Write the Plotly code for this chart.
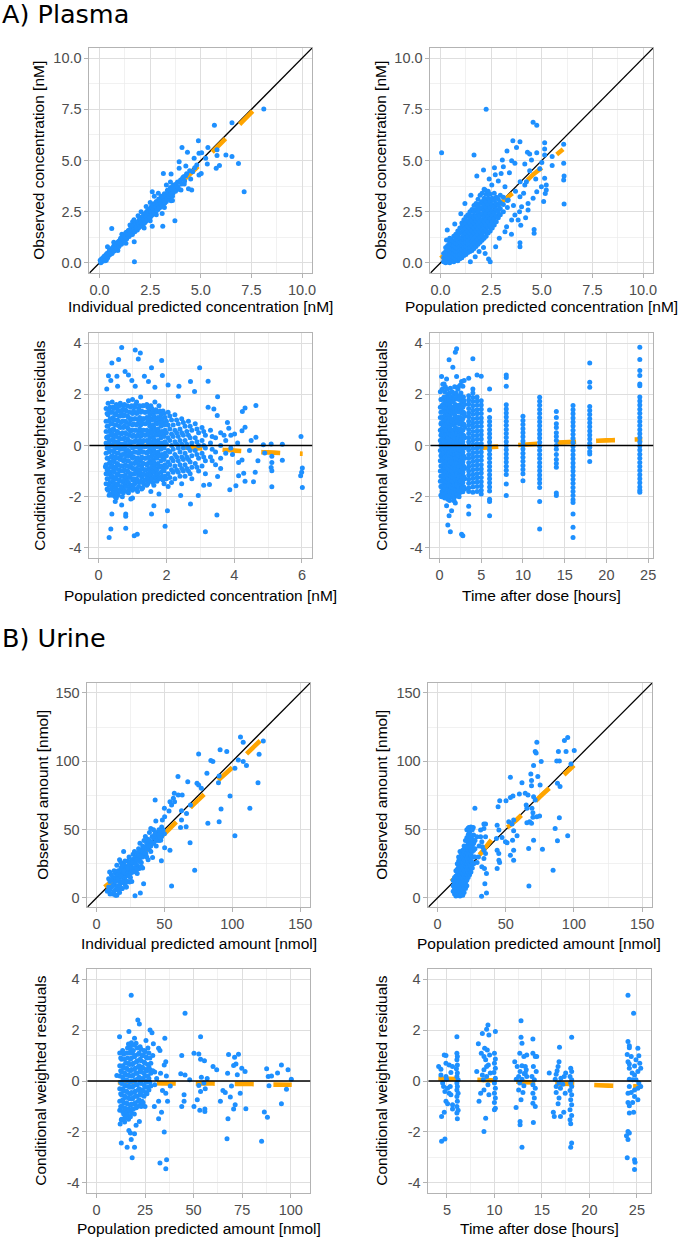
import plotly.graph_objects as go

W, H = 685, 1238
BLUE = "#1E90FF"
ORANGE = "#FFA500"
TICK_FONT = dict(family="Liberation Sans, Arial, sans-serif", size=14.5, color="#4D4D4D")
TITLE_FONT = dict(family="Liberation Sans, Arial, sans-serif", size=15.5, color="#000000")

# ---------------- A) Plasma ----------------
# Panel A1: individual predicted vs observed concentration (nM)
a1_points = [
    (8.11,7.52),(5.67,6.72),(6.54,6.85),(4.88,5.97),(5.35,5.64),(4.07,5.63),(4.34,5.40),(4.91,5.35),
    (5.04,5.38),(5.80,5.53),(5.80,5.25),(6.24,5.27),(6.54,5.19),(5.24,5.11),(5.32,4.83),(5.92,4.75),
    (5.76,4.62),(6.86,4.85),(7.14,3.47),(3.93,4.94),(4.26,4.73),(4.67,5.11),(4.80,4.78),(3.15,4.37),
    (3.53,4.34),(3.93,4.62),(4.91,4.29),(5.02,4.37),(4.50,4.09),(4.18,3.85),(4.39,3.62),(4.02,3.56),
    (4.55,3.56),(3.61,3.43),(3.53,3.03),(3.09,2.41),(3.72,2.06),(3.12,1.79),(2.60,1.79),(1.71,1.03),
    (1.72,0.05),(0.60,1.68),(0.39,0.78),(2.60,3.47),(1.63,2.01),(2.10,2.22),
    (0.03,0.12),(0.08,0.05),(0.12,0.2),(0.15,0.1),(0.2,0.28),(0.22,0.15),(0.28,0.22),(0.3,0.38),
    (0.33,0.12),(0.38,0.3),(0.42,0.48),(0.45,0.35),(0.5,0.55),(0.52,0.4),(0.57,0.5),(0.6,0.7),
    (0.63,0.55),(0.68,0.62),(0.7,0.82),(0.74,0.7),(0.78,0.85),(0.8,0.72),(0.85,0.95),(0.88,0.8),
    (0.92,0.88),(0.95,1.05),(0.98,0.9),(1.02,1.12),(1.05,0.98),(1.1,1.05),(1.12,1.25),(1.16,1.1),
    (1.2,1.2),(1.24,1.38),(1.28,1.2),(1.32,1.3),(1.36,1.5),(1.4,1.35),(1.45,1.45),(1.48,1.62),
    (1.52,1.5),(1.56,1.4),(1.6,1.72),(1.64,1.6),(1.68,1.5),(1.72,1.85),(1.76,1.7),(1.8,1.6),
    (1.84,1.95),(1.88,1.82),(1.92,1.7),(1.96,2.1),(2.0,1.95),(2.04,1.82),(2.08,2.22),(2.12,2.05),
    (2.16,1.9),(2.2,2.35),(2.24,2.18),(2.28,2.02),(2.32,2.5),(2.36,2.3),(2.4,2.12),(2.44,2.62),
    (2.48,2.42),(2.52,2.25),(2.56,2.75),(2.6,2.55),(2.64,2.38),(2.68,2.88),(2.72,2.68),(2.76,2.5),
    (2.8,3.0),(2.84,2.8),(2.88,2.6),(2.92,3.12),(2.96,2.92),(3.0,2.72),(3.05,3.25),(3.1,3.05),
    (3.15,2.85),(3.2,3.38),(3.25,3.18),(3.3,3.0),(3.35,3.55),(3.4,3.32),(3.45,3.12),(3.5,3.68),
    (3.55,3.45),(3.6,3.25),(3.65,3.8),(3.7,3.6),(3.8,3.75),(3.85,3.95),(3.9,3.6),(4.0,4.05),
    (4.05,3.85),(4.15,4.2),(4.2,4.0),(4.3,4.35),(4.45,4.5),(4.6,4.45),(4.7,4.65),(2.3,2.75),
    (2.5,2.95),(1.9,2.3),(1.5,1.85),(2.7,3.25),(2.9,3.4),(1.1,1.4),(0.7,1.0),(2.2,1.7),(2.5,2.05),
    (2.8,2.35),(3.2,2.7),(3.6,3.05),(1.3,0.95),(0.9,0.6),(3.3,3.8),(3.5,3.95),(2.05,2.5),(1.7,2.1),
    (0.06,0.0),(0.1,0.18),(0.14,0.08),(0.18,0.22),(0.24,0.32),(0.27,0.1),(0.32,0.28),(0.36,0.45),
    (0.4,0.25),(0.44,0.42),(0.48,0.6),(0.54,0.48),(0.58,0.65),(0.62,0.45),(0.66,0.75),(0.72,0.58),
    (0.76,0.78),(0.82,0.9),(0.86,0.7),(0.9,1.0),(0.96,0.8),(1.0,0.95),(1.04,1.2),(1.08,0.9),
    (1.14,1.15),(1.18,1.32),(1.22,1.05),(1.26,1.28),(1.3,1.48),(1.34,1.18),(1.38,1.4),(1.42,1.58),
    (1.46,1.28),(1.5,1.42),(1.54,1.65),(1.58,1.55),(1.62,1.38),(1.66,1.78),(1.7,1.62),(1.74,1.52),
    (1.78,1.9),(1.82,1.75),(1.86,1.6),(1.9,2.0),(1.94,1.88),(1.98,1.75),(2.02,2.12),(2.06,1.98),
    (2.1,1.85),(2.14,2.28),(2.18,2.12),(2.22,1.95),(2.26,2.42),(2.3,2.25),(2.34,2.1),(2.38,2.55),
    (2.42,2.38),(2.46,2.2),(2.5,2.6),(2.54,2.5),(2.58,2.32),(2.62,2.7),(2.66,2.62),(2.7,2.45),
    (2.74,2.85),(2.78,2.72),(2.82,2.55),(2.86,2.95),(2.9,2.82),(2.94,2.68),(2.98,3.05),(3.02,2.9),
    (3.08,2.8),(3.12,3.18),(3.18,3.02),(3.22,2.92),(3.28,3.3),(3.32,3.12),(3.38,3.45),(3.42,3.25),
    (3.48,3.55),(3.52,3.35),(3.58,3.6),(3.62,3.4),(3.68,3.7),(3.75,3.5),(3.78,3.85),(3.88,3.7),
    (3.95,3.95),(4.1,4.15),(4.25,4.25),
]
a1_loess_x = [0.05, 1.0, 2.0, 3.0, 4.0, 5.0, 6.0, 7.0, 7.8]
a1_loess_y = [0.08, 1.0, 1.98, 2.95, 3.9, 4.85, 5.85, 6.85, 7.65]

# Panel A2: population predicted vs observed concentration (nM)
a2_points = [
    (0.05,5.38),(2.25,7.5),(4.57,6.87),(4.75,6.72),(3.57,5.97),(3.92,5.92),(3.75,5.64),(1.65,5.27),
    (3.28,5.46),(4.29,5.40),(4.40,5.32),(4.75,5.38),(5.14,5.87),(5.14,5.56),(5.14,5.27),(5.51,5.19),
    (6.08,5.79),(6.08,4.86),(6.10,4.24),(6.08,4.05),(6.10,2.87),(5.51,4.75),(5.14,4.13),(5.22,3.80),
    (5.22,3.56),(5.17,3.39),(5.09,2.99),(4.75,3.47),(4.98,3.72),(4.49,5.02),(4.16,4.83),(3.67,4.86),
    (3.51,4.99),(3.05,5.02),(2.66,4.65),(2.99,4.37),(2.12,4.53),(1.79,4.24),(3.93,3.96),(4.24,3.96),
    (4.16,3.80),(4.32,2.90),(3.92,3.23),(4.32,2.58),(4.57,3.15),(4.0,2.74),(3.67,2.33),(3.83,2.09),
    (3.51,2.09),(3.26,1.76),(3.18,1.52),(3.96,1.84),(4.62,1.63),(4.62,1.44),(3.92,0.98),(3.92,0.78),
    (2.72,0.78),(2.12,0.75),(1.71,0.29),(2.37,0.18),(2.45,0.05),(1.47,0.05),(0.33,1.60),(0.29,1.11),
    (2.85,4.0),(3.18,3.72),(2.53,3.80),(2.20,3.56),(3.34,3.07),(2.9,1.2),(3.5,1.4),(3.7,3.5),
    (4.1,3.4),(4.4,4.5),(4.7,4.1),(4.9,4.6),(5.0,4.9),(3.4,4.4),(3.1,4.7),(1.2,2.9),(1.5,3.3),
    (1.0,2.4),(0.7,1.9),(2.7,4.3),(2.4,4.1),(3.6,2.8),(3.9,2.5),(4.2,2.2),(2.2,0.45),(1.9,0.55),
]
a2_columns = [
    (0.15,[0.05,0.25,0.45]),
    (0.25,[0.0,0.15,0.35,0.55,0.75]),
    (0.35,[0.05,0.25,0.45,0.65,0.85]),
    (0.45,[0.0,0.2,0.4,0.6,0.8,1.0,1.2]),
    (0.55,[0.1,0.3,0.5,0.7,0.9,1.1]),
    (0.65,[0.05,0.25,0.45,0.65,0.85,1.05,1.3]),
    (0.75,[0.15,0.35,0.55,0.75,0.95,1.15,1.4]),
    (0.85,[0.1,0.3,0.5,0.7,0.9,1.1,1.3,1.55]),
    (0.95,[0.2,0.4,0.6,0.8,1.0,1.2,1.45,1.7]),
    (1.05,[0.25,0.45,0.65,0.85,1.05,1.25,1.5,1.75,1.95]),
    (1.15,[0.35,0.55,0.75,0.95,1.15,1.35,1.6,1.85,2.1]),
    (1.25,[0.4,0.6,0.8,1.0,1.2,1.45,1.7,1.95,2.25]),
    (1.35,[0.5,0.7,0.9,1.1,1.3,1.55,1.8,2.05,2.35]),
    (1.45,[0.55,0.75,0.95,1.2,1.45,1.7,1.95,2.2,2.5]),
    (1.55,[0.6,0.85,1.05,1.3,1.55,1.8,2.05,2.3,2.6]),
    (1.65,[0.7,0.95,1.2,1.45,1.7,1.95,2.2,2.5,2.8]),
    (1.75,[0.8,1.05,1.3,1.55,1.8,2.05,2.3,2.6,2.9]),
    (1.85,[0.9,1.15,1.4,1.65,1.9,2.15,2.45,2.75,3.1]),
    (1.95,[1.0,1.25,1.5,1.75,2.0,2.3,2.6,2.9,3.3]),
    (2.05,[1.1,1.35,1.6,1.85,2.1,2.4,2.7,3.0,3.4]),
    (2.15,[1.2,1.5,1.75,2.0,2.25,2.55,2.85,3.15,3.6]),
    (2.25,[1.3,1.6,1.85,2.1,2.4,2.7,3.0,3.35]),
    (2.35,[1.45,1.75,2.0,2.25,2.55,2.85,3.15,3.5]),
    (2.45,[1.55,1.85,2.15,2.4,2.7,3.0,3.35]),
    (2.55,[1.7,2.0,2.3,2.55,2.85,3.15]),
    (2.65,[1.85,2.15,2.45,2.75,3.05,3.4]),
    (2.75,[2.0,2.3,2.6,2.9,3.2]),
    (2.85,[2.2,2.5,2.8,3.1]),
    (2.95,[2.35,2.65,2.95,3.3]),
    (3.10,[2.5,2.85,3.2]),
    (3.30,[2.7,3.05]),
]
a2_loess_x = [0.0, 1.0, 2.0, 3.0, 4.0, 4.5, 5.0, 5.5, 6.05]
a2_loess_y = [0.22, 1.0, 1.95, 2.95, 3.75, 4.25, 4.65, 5.1, 5.55]

# Panel A3: population predicted concentration vs CWRES
a3_outliers = [
    (0.68,3.83),(1.08,3.74),(1.23,3.62),(1.17,3.38),(0.39,3.23),(0.59,3.36),(1.86,3.32),(1.56,3.04),
    (2.98,3.04),(3.23,2.51),(2.71,2.50),(2.83,2.11),(1.88,2.74),(2.05,2.37),(2.37,2.32),(2.35,1.93),
    (3.51,1.91),(3.23,1.50),(3.40,1.43),(3.50,1.17),(4.32,1.47),(4.24,1.33),(4.64,1.56),(3.84,0.67),
    (4.32,0.71),(4.23,0.58),(4.01,0.45),(4.64,0.32),(5.97,0.35),(5.09,0.06),(5.42,0.05),(4.86,0.03),
    (4.90,-0.29),(5.11,-0.42),(5.42,-0.58),(5.11,-0.66),(5.09,-0.86),(5.11,-0.99),(4.23,-0.57),
    (4.28,-1.09),(4.13,-0.66),(4.13,-1.18),(4.62,-1.05),(4.57,-1.42),(4.32,-1.40),(4.05,-1.57),
    (3.87,-1.73),(5.11,-1.61),(6.01,-0.88),(5.99,-1.05),(5.96,-1.18),(6.01,-1.64),(3.51,-1.21),
    (3.10,-1.55),(3.27,-1.53),(3.49,-2.72),(3.15,-3.37),(2.94,-1.96),(2.71,-2.29),(2.42,-1.96),
    (2.03,-2.55),(1.96,-3.16),(1.63,-2.36),(1.56,-2.68),(1.05,-3.53),(1.14,-3.47),(0.31,-3.60),
    (0.36,-3.27),(0.39,-2.68),(0.80,-2.68),(0.80,-2.77),(0.80,-3.24),(0.68,-2.33),(0.95,-2.09),
    (0.49,-2.19),(0.20,-0.83),(0.24,0.32),(0.29,2.73),(0.36,2.54),(0.54,2.71),(0.56,2.32),(0.78,2.89),
    (0.88,2.76),(0.98,2.54),(1.35,2.71),(1.66,2.28),(1.47,2.50),(1.08,2.32),(0.24,2.21),(3.8,0.9),
    (3.6,-0.9),(3.7,0.4),(4.45,-0.2),(4.7,-0.6),(3.95,-0.35),(4.5,0.2),(4.1,0.1),
]
a3_columns = [
    (0.22,[1.45,0.95,0.55,0.1,-0.3,-0.75,-1.1,-1.5]),
    (0.25,[1.25,0.75,0.3,-0.1,-0.5,-0.95,-1.3,-1.7]),
    (0.28,[1.65,1.2,0.75,0.35,-0.05,-0.5,-0.9,-1.3,-1.75]),
    (0.31,[1.4,0.95,0.55,0.15,-0.25,-0.7,-1.1,-1.55,-1.95]),
    (0.34,[1.5,1.05,0.6,0.2,-0.2,-0.65,-1.05,-1.45,-1.9]),
    (0.37,[1.3,0.85,0.4,0.0,-0.45,-0.85,-1.25,-1.7]),
    (0.40,[1.7,1.3,0.85,0.45,0.0,-0.4,-0.8,-1.2,-1.6,-1.95]),
    (0.43,[1.5,1.1,0.65,0.25,-0.2,-0.6,-1.0,-1.4,-1.8]),
    (0.46,[1.45,1.0,0.6,0.15,-0.25,-0.65,-1.05,-1.5,-1.85]),
    (0.49,[1.25,0.8,0.4,-0.05,-0.45,-0.85,-1.25,-1.65,-2.0]),
    (0.52,[1.6,1.2,0.8,0.35,-0.1,-0.5,-0.9,-1.3,-1.7,-2.05]),
    (0.55,[1.45,1.0,0.55,0.15,-0.3,-0.7,-1.1,-1.5,-1.85]),
    (0.58,[1.35,0.95,0.5,0.1,-0.3,-0.75,-1.15,-1.55,-1.95]),
    (0.61,[1.55,1.15,0.75,0.3,-0.1,-0.5,-0.95,-1.35,-1.75]),
    (0.64,[1.65,1.15,0.7,0.25,-0.15,-0.55,-1.0,-1.4,-1.8]),
    (0.67,[1.3,0.9,0.45,0.05,-0.4,-0.8,-1.2,-1.6]),
    (0.70,[1.4,0.95,0.5,0.05,-0.35,-0.8,-1.2,-1.65,-2.0]),
    (0.73,[1.55,1.15,0.7,0.25,-0.15,-0.6,-1.0,-1.45,-1.85]),
    (0.76,[1.6,1.2,0.75,0.3,-0.1,-0.55,-0.95,-1.35,-1.75]),
    (0.79,[1.4,0.95,0.5,0.1,-0.3,-0.75,-1.15,-1.55]),
    (0.82,[1.35,0.9,0.45,0.0,-0.4,-0.8,-1.25,-1.6]),
    (0.85,[1.55,1.15,0.7,0.25,-0.2,-0.6,-1.0,-1.4,-1.8]),
    (0.88,[1.75,1.1,0.65,0.2,-0.2,-0.6,-1.05,-1.45,-1.85]),
    (0.91,[1.3,0.85,0.4,0.0,-0.4,-0.85,-1.25,-1.7]),
    (0.94,[1.5,1.0,0.55,0.1,-0.3,-0.75,-1.15,-1.55]),
    (0.97,[1.55,1.05,0.6,0.15,-0.3,-0.7,-1.1,-1.55]),
    (1.00,[1.8,1.25,0.8,0.35,-0.1,-0.5,-0.9,-1.35,-1.75,-2.05]),
    (1.03,[1.35,0.85,0.4,-0.05,-0.45,-0.9,-1.3,-1.65]),
    (1.06,[1.5,1.05,0.6,0.15,-0.25,-0.7,-1.1,-1.5]),
    (1.09,[1.6,1.05,0.6,0.2,-0.25,-0.65,-1.05,-1.45]),
    (1.12,[1.7,1.25,0.8,0.35,-0.05,-0.5,-0.9,-1.3,-1.7]),
    (1.15,[1.3,0.85,0.4,-0.05,-0.5,-0.95,-1.4,-1.8]),
    (1.18,[1.45,1.0,0.55,0.1,-0.3,-0.75,-1.15,-1.6]),
    (1.21,[1.55,1.1,0.65,0.2,-0.2,-0.6,-1.05,-1.45]),
    (1.24,[1.9,1.3,0.8,0.35,-0.1,-0.55,-0.95,-1.4]),
    (1.27,[1.35,0.9,0.45,0.0,-0.45,-0.85,-1.25,-1.7]),
    (1.30,[1.55,1.05,0.6,0.15,-0.25,-0.7,-1.15,-1.65]),
    (1.33,[1.55,1.05,0.6,0.2,-0.25,-0.7,-1.1,-1.5]),
    (1.36,[1.3,0.85,0.4,-0.05,-0.5,-0.95,-1.35]),
    (1.39,[1.3,0.85,0.4,-0.05,-0.5,-0.95,-1.35]),
    (1.42,[1.6,1.1,0.6,0.2,-0.3,-0.75,-1.2,-1.55]),
    (1.45,[1.5,1.0,0.55,0.15,-0.25,-0.7,-1.1,-1.5]),
    (1.48,[1.35,0.9,0.45,0.0,-0.45,-0.9,-1.3]),
    (1.51,[1.2,0.75,0.3,-0.15,-0.6,-1.0,-1.4]),
    (1.54,[1.55,1.05,0.6,0.15,-0.25,-0.7,-1.15,-1.8]),
    (1.57,[1.45,1.0,0.5,0.05,-0.4,-0.85,-1.3]),
    (1.60,[1.3,0.8,0.35,-0.1,-0.55,-1.0,-1.45]),
    (1.63,[1.15,0.7,0.25,-0.2,-0.65,-1.05,-1.55]),
    (1.66,[1.7,1.05,0.6,0.15,-0.3,-0.75,-1.2]),
    (1.69,[1.4,0.9,0.45,0.0,-0.45,-0.9,-1.3]),
    (1.72,[1.3,0.85,0.4,-0.05,-0.5,-0.95,-1.4]),
    (1.75,[1.1,0.65,0.2,-0.25,-0.7,-1.1]),
    (1.78,[1.55,1.0,0.55,0.1,-0.35,-0.8,-1.25,-1.9]),
    (1.81,[1.35,0.9,0.45,0.0,-0.4,-0.85,-1.3]),
    (1.84,[1.2,0.75,0.3,-0.15,-0.6,-1.05]),
    (1.87,[1.05,0.55,0.1,-0.35,-0.8,-1.2]),
    (1.90,[1.35,0.9,0.45,0.0,-0.45,-0.9,-1.35]),
    (1.93,[1.25,0.8,0.35,-0.1,-0.55,-1.0,-1.5]),
    (1.96,[1.1,0.6,0.15,-0.3,-0.75,-1.2]),
    (2.00,[0.95,0.5,0.05,-0.4,-0.85,-1.3]),
    (2.05,[1.3,0.8,0.3,-0.2,-0.65,-1.1,-1.6]),
    (2.10,[1.15,0.65,0.2,-0.25,-0.75,-1.25]),
    (2.15,[1.0,0.45,0.0,-0.5,-0.95,-1.45]),
    (2.20,[0.8,0.35,-0.15,-0.6,-1.05]),
    (2.25,[1.2,0.6,0.15,-0.35,-0.8,-1.3]),
    (2.30,[1.0,0.5,0.05,-0.45,-0.95]),
    (2.35,[0.85,0.35,-0.1,-0.6,-1.05]),
    (2.40,[0.65,0.2,-0.25,-0.75,-1.2]),
    (2.45,[1.05,0.5,0.05,-0.45,-0.9,-1.5]),
    (2.50,[0.9,0.4,-0.1,-0.55,-1.0]),
    (2.55,[0.75,0.2,-0.3,-0.75,-1.2]),
    (2.60,[0.55,0.05,-0.45,-0.9]),
    (2.65,[0.95,0.4,-0.1,-0.55,-1.0]),
    (2.70,[0.75,0.3,-0.2,-0.65,-1.1]),
    (2.75,[0.6,0.1,-0.4,-0.85,-1.3]),
    (2.85,[0.85,0.3,-0.2,-0.7]),
    (2.90,[0.65,0.15,-0.35,-0.85]),
    (2.95,[0.5,0.0,-0.5,-1.0]),
    (3.05,[0.7,0.2,-0.3,-0.8]),
    (3.10,[0.55,0.0,-0.45]),
    (3.15,[0.4,-0.1,-0.6,-1.1]),
    (3.30,[0.6,0.1,-0.45]),
    (3.35,[0.35,-0.15,-0.6]),
    (3.45,[0.3,-0.25,-0.75]),
    (3.60,[0.5,0.0,-0.5]),
    (3.75,[0.2,-0.3]),
    (3.90,[0.4,-0.1]),
]
a3_loess_x = [0.2, 1.0, 2.0, 2.8, 3.5, 4.0, 4.5, 5.0, 5.5, 6.02]
a3_loess_y = [0.0, 0.0, -0.05, -0.1, -0.15, -0.2, -0.24, -0.27, -0.3, -0.32]

# Panel A4: time after dose vs CWRES
a4_columns = [
    (0.10,[2.1,1.5,1.1,0.6,0.2,-0.2,-0.6,-1.0,-1.4]),
    (0.17,[1.8,1.3,0.85,0.4,0.0,-0.4,-0.8,-1.2,-1.6,-1.95]),
    (0.25,[2.7,1.8,1.3,0.9,0.45,0.05,-0.35,-0.8,-1.2,-1.6,-2.0]),
    (0.32,[2.2,1.55,1.1,0.65,0.25,-0.15,-0.55,-1.0,-1.4,-1.8]),
    (0.40,[2.4,1.6,1.1,0.7,0.25,-0.15,-0.55,-0.95,-1.35,-1.75]),
    (0.47,[1.85,1.35,0.9,0.45,0.05,-0.35,-0.75,-1.15,-1.55,-2.0]),
    (0.55,[2.41,1.9,1.4,0.95,0.5,0.1,-0.3,-0.7,-1.1,-1.5,-1.9]),
    (0.62,[2.1,1.6,1.15,0.7,0.3,-0.1,-0.5,-0.9,-1.3,-1.7,-2.05]),
    (0.70,[2.3,1.7,1.2,0.8,0.35,-0.05,-0.45,-0.85,-1.25,-1.65,-2.0]),
    (0.77,[1.9,1.45,1.0,0.55,0.15,-0.25,-0.65,-1.05,-1.45,-1.9]),
    (0.85,[2.6,1.5,1.05,0.6,0.2,-0.2,-0.6,-1.0,-1.4,-1.85,-2.36]),
    (0.92,[2.2,1.75,1.3,0.85,0.4,0.0,-0.4,-0.8,-1.2,-1.6,-2.0]),
    (1.00,[2.0,1.6,1.2,0.75,0.3,-0.1,-0.5,-0.9,-1.3,-1.7,-2.1,-3.11]),
    (1.07,[1.85,1.4,0.95,0.5,0.1,-0.3,-0.7,-1.1,-1.5,-1.9]),
    (1.15,[3.35,1.8,1.35,0.9,0.45,0.05,-0.35,-0.75,-1.15,-1.55,-1.95,-2.75]),
    (1.22,[2.05,1.6,1.15,0.7,0.25,-0.15,-0.55,-0.95,-1.35,-1.75,-2.15]),
    (1.30,[2.24,1.5,1.05,0.6,0.15,-0.25,-0.65,-1.05,-1.45,-1.85,-3.37]),
    (1.37,[1.75,1.3,0.85,0.4,0.0,-0.4,-0.8,-1.2,-1.6,-2.0]),
    (1.45,[1.9,1.4,0.95,0.5,0.1,-0.3,-0.7,-1.1,-1.5,-1.9,-2.55]),
    (1.52,[2.1,1.5,1.05,0.6,0.2,-0.2,-0.6,-1.0,-1.4,-1.8]),
    (1.60,[3.06,1.7,1.25,0.8,0.35,-0.05,-0.45,-0.85,-1.25,-1.65,-2.0]),
    (1.67,[1.85,1.35,0.9,0.45,0.05,-0.35,-0.75,-1.15,-1.55,-1.95]),
    (1.75,[2.0,1.45,1.0,0.55,0.15,-0.25,-0.65,-1.05,-1.45,-1.85,-2.16]),
    (1.82,[2.3,1.8,1.3,0.85,0.45,0.05,-0.35,-0.75,-1.15,-1.55,-2.0]),
    (1.90,[3.65,1.6,1.15,0.7,0.3,-0.1,-0.5,-0.9,-1.3,-1.7,-2.25]),
    (1.97,[2.05,1.55,1.1,0.65,0.25,-0.15,-0.55,-0.95,-1.35,-1.75]),
    (2.05,[3.78,2.7,1.85,1.35,0.9,0.45,0.05,-0.35,-0.75,-1.15,-1.55,-1.95]),
    (2.12,[1.95,1.4,0.95,0.5,0.1,-0.3,-0.7,-1.1,-1.5,-1.9]),
    (2.20,[2.2,1.55,1.1,0.65,0.25,-0.15,-0.55,-0.95,-1.35,-1.75]),
    (2.27,[2.3,1.55,1.1,0.65,0.25,-0.15,-0.55,-0.95,-1.35,-1.75]),
    (2.35,[1.8,1.3,0.85,0.4,0.0,-0.4,-0.8,-1.2,-1.6,-2.0]),
    (2.42,[1.95,1.45,1.0,0.55,0.15,-0.25,-0.65,-1.05,-1.45,-1.85]),
    (2.50,[2.37,1.6,1.1,0.65,0.2,-0.2,-0.6,-1.0,-1.4,-1.8]),
    (2.57,[2.05,1.5,1.05,0.6,0.2,-0.2,-0.6,-1.0,-1.4]),
    (2.65,[2.5,1.85,1.35,0.9,0.45,0.05,-0.35,-0.75,-1.15,-1.55,-3.47]),
    (2.72,[1.7,1.25,0.8,0.35,-0.05,-0.45,-0.85,-1.25,-1.65]),
    (2.80,[2.32,1.5,1.05,0.6,0.15,-0.25,-0.65,-1.05,-1.45,-1.81,-3.53]),
    (2.87,[1.9,1.3,0.85,0.4,0.0,-0.4,-0.8,-1.2,-1.6]),
    (2.95,[2.54,1.75,1.25,0.8,0.35,-0.05,-0.45,-0.85,-1.25,-1.65]),
    (3.02,[1.6,1.15,0.7,0.3,-0.1,-0.5,-0.9,-1.3,-1.7]),
    (3.50,[2.63,1.95,1.78,1.62,1.45,1.28,1.12,0.95,0.8,0.63,0.47,0.3,0.14,-0.02,-0.18,-0.35,-0.5,
           -0.67,-0.83,-1.0,-1.15,-1.32,-1.48,-1.65,-1.8,-2.38,-2.68]),
    (4.00,[3.39,2.21,2.05,1.88,1.72,1.55,1.38,1.22,1.05,0.88,0.72,0.55,0.38,0.22,0.05,-0.12,-0.28,
           -0.45,-0.62,-0.78,-0.95,-1.12,-1.28,-1.45,-1.62,-1.83]),
    (4.50,[2.76,1.9,1.74,1.57,1.4,1.24,1.07,0.9,0.74,0.57,0.4,0.24,0.07,-0.1,-0.26,-0.43,-0.6,
           -0.76,-0.93,-1.1,-1.26,-1.43,-1.6,-1.8]),
    (5.00,[2.71,1.75,1.58,1.42,1.25,1.08,0.92,0.75,0.58,0.42,0.25,0.08,-0.08,-0.25,-0.42,-0.58,
           -0.75,-0.92,-1.08,-1.25,-1.42,-1.58,-1.75,-1.9]),
    (6.00,[2.21,1.39,1.1,0.94,0.78,0.62,0.46,0.3,0.14,-0.02,-0.18,-0.34,-0.5,-0.66,-0.82,-0.98,
           -1.14,-1.3,-1.46,-1.62,-1.78,-2.1,-2.19,-2.75]),
    (8.00,[2.76,2.66,2.32,1.59,1.43,1.27,1.11,0.95,0.79,0.63,0.47,0.31,0.15,-0.01,-0.17,-0.33,
           -0.49,-0.65,-0.81,-0.97,-1.13,-1.51,-1.96]),
    (10.0,[1.14,0.98,0.82,0.66,0.5,0.34,0.18,0.02,-0.14,-0.3,-0.46,-0.62,-0.78,-0.94,-1.1,-1.38]),
    (12.0,[1.89,1.73,1.57,1.41,1.25,1.09,0.93,0.77,0.61,0.45,0.29,0.13,-0.03,-0.19,-0.35,-0.51,
           -0.67,-0.83,-0.99,-1.15,-1.31,-1.47,-1.64,-2.19,-3.27]),
    (14.0,[1.33,1.1,0.85,0.7,0.5,0.35,0.2,0.0,-0.15,-0.35,-0.55,-0.7,-0.85,-1.86,-1.96]),
    (16.0,[1.56,1.4,1.24,1.08,0.92,0.76,0.6,0.44,0.28,0.12,-0.04,-0.2,-0.36,-0.52,-0.68,-0.84,
           -1.0,-1.16,-1.32,-1.48,-1.64,-1.8,-1.96,-2.12,-2.23,-2.68,-3.2,-3.6]),
    (18.0,[3.23,2.47,2.28,1.53,1.37,1.21,1.05,0.89,0.73,0.57,0.41,0.25,0.09,-0.07,-0.23,-0.33,-0.63]),
    (24.0,[3.84,3.36,2.93,2.74,2.41,2.34,1.9,1.74,1.58,1.42,1.26,1.1,0.94,0.78,0.62,0.46,0.3,0.14,
           -0.02,-0.18,-0.34,-0.5,-0.66,-0.82,-0.98,-1.14,-1.3,-1.46,-1.62,-1.75,-1.83]),
]
a4_loess_x = [0.1, 2.0, 4.0, 6.0, 8.0, 10.0, 12.0, 14.0, 16.0, 18.0, 20.0, 22.0, 24.3]
a4_loess_y = [-0.05, -0.08, -0.1, -0.07, -0.02, 0.03, 0.07, 0.11, 0.14, 0.17, 0.2, 0.22, 0.24]

# ---------------- B) Urine ----------------
# Panel B1: individual predicted vs observed amount (nmol)
b1_points = [
    (106,117.7),(108,114),(122.8,114.8),(91,108.4),(95.9,107.2),(75.2,105.4),(119.7,105.2),
    (84.2,100.6),(85.7,99.8),(104.4,101),(108,99.8),(110.4,96.9),(101.9,94.9),(90.3,89.3),
    (89.8,84.4),(118.9,84.4),(81.3,91.3),(60,88.8),(67.2,85.1),(74,83.9),(75.2,82.7),(77.2,80.3),
    (98.3,74.6),(91.7,65.1),(112.9,65.6),(82,54.6),(90.3,55.8),(101.9,45.5),(72.3,20.3),(55.3,8.8),
    (28.4,1.7),(32.3,3.7),(34.7,10.5),(21.8,8.1),(24.3,11.7),(18.7,6.9),(68.9,40.4),(66,52.1),
    (61.9,51.6),(62.6,57),(62.6,63.9),(60.2,75.4),(56.6,72.9),(57.3,76.6),(57.5,70.5),(63.1,75.4),
    (69.2,68),(66.3,61.9),(54.1,70.5),(55.3,68),(53.4,63.6),(50,65.6),(50.2,59.5),(48.5,57),
    (43.2,71.7),(43.7,56.3),(40,50.9),(47.3,42.3),(47.8,27.2),(50.2,36.7),(54.1,35),(36.4,32.1),
    (41.3,29.6),(38.8,35.5),(41.3,40.6),(31.6,21.5),(32.3,32.5),(9.7,19.1),
    (8,5),(10,12),(11,8),(12,3),(12,15),(13,10),(14,6),(14,18),(15,13),(15,2),(16,9),(16,20),
    (17,15),(17,4),(18,11),(18,22),(19,17),(19,7),(20,14),(20,25),(21,19),(21,10),(22,23),(22,16),
    (23,27),(23,12),(24,20),(24,30),(25,24),(25,15),(26,28),(26,19),(27,32),(27,22),(28,26),(28,34),
    (29,30),(29,20),(30,33),(30,24),(31,36),(31,28),(32,31),(32,40),(33,35),(33,26),(34,38),(34,30),
    (35,42),(35,33),(36,37),(36,45),(37,40),(37,30),(38,43),(39,38),(39,48),(40,41),(40,34),(41,45),
    (42,40),(42,50),(43,44),(44,48),(44,38),(45,46),(46,50),(46,42),(47,48),(48,45),(48,52),(49,50),
    (50,47),(15,16),(18,19),(21,22),(24,25),(27,28),(13,14),(16,17),(19,20),(22,21),(25,26),(28,29),
    (20,18),(23,22),(26,25),(29,28),(17,12),(10,6),(9,14),(11,17),(13,20),(15,24),(17,28),(20,34),
    (14,2),(22,8),(26,12),(30,18),(34,22),(38,28),(18,26),
    (9,8),(10,3),(11,13),(12,9),(13,5),(14,12),(15,8),(16,14),(17,9),(18,16),(19,12),(20,20),
    (21,15),(22,12),(23,18),(24,23),(25,18),(26,22),(27,26),(28,22),(29,25),(30,28),(31,31),(32,27),
    (33,30),(34,34),(35,37),(36,33),(37,36),(38,38),(39,42),(40,38),(41,40),(42,44),(43,47),(44,42),
    (45,44),(46,46),(47,44),(48,49),(16,6),(19,24),(21,27),(24,16),(27,19),(30,21),(33,23),
]
b1_loess_x = [6, 20, 35, 50, 60, 70, 80, 90, 100, 110, 122.5]
b1_loess_y = [8, 19.5, 33.5, 47, 57, 67, 76.5, 86.5, 95.5, 105, 117]

# Panel B2: population predicted vs observed amount (nmol)
b2_outliers = [
    (95.4,117.4),(93,115.2),(72.8,114),(71.6,107.2),(72.3,106),(88.6,107.2),(94.2,107.2),
    (100.2,107.9),(76,99.8),(87.4,100.3),(89.3,100.3),(70.4,96.9),(97.8,98.1),(68.4,90.8),
    (73.5,88.8),(53.4,88.3),(61.9,84.4),(68.9,85.9),(68.9,82.2),(75.2,82.7),(89.8,81.5),(87.9,83.9),
    (66.3,75.4),(64.3,76.6),(60,76.1),(70.4,74.1),(71.6,71.7),(55.3,74.6),(53.4,73.6),(50.2,71.2),
    (45.6,71.2),(44.4,66.8),(65,68),(65.5,65.6),(69.2,65.6),(69.9,62.4),(72.8,59.5),(74.8,59.9),
    (69.9,59),(67.5,55.8),(68.9,54.6),(65.5,55),(89.3,58.7),(86.2,50.9),(87.9,41.8),(95.4,45.5),
    (70.4,42.3),(66.8,36.2),(76.9,35.7),(84.7,20.3),(67,8.8),(55.8,57),(52.2,55.8),(54.6,54.1),
    (55.8,49.2),(58.3,45.5),(55,42.3),(51,40.4),(55.8,35),(53.4,31.3),(55.8,27.6),(49.8,41.1),
    (43.7,53.3),(45,49.7),(43.2,43.6),(47.3,44.3),(43.7,35),(44.9,32.5),(43.7,21.5),(45,27.6),
    (45.5,25.9),(34,54.1),(35.2,54.1),(31.6,49.7),(34,50.9),(31.6,44.8),(35.2,44.8),(32.5,41.1),
    (32.9,37.4),(34,35),(35.2,32.5),(34,28.9),(32.5,22.8),(34.4,21.5),(35.9,17.9),(34.7,10.5),
    (35.9,3.7),(32.3,1.2),(27.4,65.6),(23,51.6),(26.2,51.6),(23,47.2),(28.9,44.8),(23.8,41.1),
    (25.5,39.4),(30.5,38),(30,30),(29,26),
]
b2_columns = [
    (11.5,[13,9,5]),
    (12.5,[15,11,7,3]),
    (13.5,[20,16,12,8,4,1.5]),
    (14.5,[25,21,17,13,9,5,2]),
    (15.5,[30,27,23,19,15,11,7,3]),
    (16.5,[34,29,25,21,17,13,9,5,1.5]),
    (17.5,[33,31,27,23,19,15,11,7,3]),
    (18.5,[35,30,26,22,18,14,10,6,2]),
    (19.5,[38,33,28,24,20,16,12,8,4]),
    (20.5,[42,36,31,27,23,19,15,11,7]),
    (21.5,[50,44,38,33,29,25,21,17,13,9]),
    (22.5,[51,46,40,35,31,27,23,19,15]),
    (23.5,[48,42,37,33,29,25,21,17]),
    (24.5,[52,45,40,35,31,27,23,19]),
    (25.5,[50,43,38,34,30,26,22]),
    (26.5,[46,40,35,30,25]),
    (27.5,[42,36,30]),
]
b2_loess_x = [10, 15, 20, 25, 32, 41, 55, 64, 75, 86, 100]
b2_loess_y = [12, 16.5, 21, 26, 33, 44, 54.6, 63, 74, 84, 97]

# Panel B3: population predicted amount vs CWRES
b3_outliers = [
    (17.9,3.37),(21.3,2.40),(22.1,2.24),(45.6,2.66),(27.6,2.0),(28.6,1.9),(16.7,1.94),(11.9,1.74),
    (35.2,1.68),(53.6,1.74),(19.6,1.68),(20.4,1.48),(29.3,1.46),(32,1.29),(32.7,1.2),(25.5,1.59),
    (17.5,1.35),(50.2,1.09),(52.7,1.06),(43.9,1.0),(53.6,0.85),(55.6,0.8),(68,1.04),(73.1,1.05),
    (71.1,0.93),(71.8,0.67),(70.6,0.61),(60,0.57),(61.9,0.44),(74.8,0.50),(76.5,0.37),(87.6,0.48),
    (95.2,0.63),(98.6,0.44),(93.2,0.31),(90.1,0.2),(88.4,0.18),(100.3,0.07),(88.8,-0.19),(97.8,-0.32),
    (95.2,-0.89),(86.4,-1.22),(88,-1.42),(85,-2.37),(76.9,-1.09),(71.4,-0.93),(70.6,-1.1),(74,-0.48),
    (67.7,-1.48),(67.2,-2.27),(68.9,-0.63),(66.3,-0.45),(65.1,-0.37),(63.8,-0.8),(55.8,-1.1),
    (55.8,-1.2),(53.2,-1.15),(51.9,-0.74),(50.2,-1.0),(53.6,-0.41),(52.7,-0.18),(55.3,-0.08),
    (45.1,-0.8),(45.1,-0.54),(43.9,-1.0),(45.6,0.24),(43.4,0.28),(34.9,-2.0),(35.7,-3.45),
    (36.1,-3.09),(32.7,-3.22),(33.5,-1.23),(32,-0.8),(32,-1.48),(29.8,-1.0),(36.6,-0.8),(34,-0.37),
    (35.7,-0.48),(34.9,0.63),(35.7,0.76),(18.4,-3.02),(12.8,-2.44),(15.8,-2.6),(19.6,-2.6),
    (17.9,-2.3),(19.6,-2.07),(17.5,-2.04),(20.4,-1.74),(22.1,-1.59),(14.5,-1.61),(12.8,-1.52),
    (12.2,-1.69),(16.7,-1.94),(10.5,0.22),(67.5,0.3),(69.5,-0.2),(72.5,0.25),(48,0.05),(57,0.1),
    (38,-0.2),(33,0.3),(31,0.1),(36,0.2),(54,0.15),(56,-0.3),
]
b3_columns = [
    (12,[1.1,0.6,0.2,-0.3,-0.8,-1.15]),
    (12.5,[0.9,0.4,-0.05,-0.5,-1.0]),
    (13,[0.85,0.35,-0.1,-0.55,-1.0,-1.5]),
    (13.5,[1.2,0.6,0.15,-0.3,-0.75,-1.2]),
    (14,[1.05,0.5,0.05,-0.4,-0.85,-1.3]),
    (14.5,[0.85,0.3,-0.15,-0.6,-1.05,-1.45]),
    (15,[0.7,0.25,-0.2,-0.65,-1.1]),
    (15.5,[1.1,0.5,0.05,-0.4,-0.85,-1.25]),
    (16,[1.3,0.9,0.45,0.0,-0.45,-0.9,-1.35]),
    (16.5,[1.45,0.7,0.25,-0.2,-0.65,-1.1,-1.5]),
    (17,[1.1,0.65,0.2,-0.25,-0.7,-1.15]),
    (17.5,[1.25,0.85,0.4,-0.05,-0.5,-0.95,-1.4]),
    (18,[1.5,0.9,0.45,0.0,-0.45,-0.9,-1.25]),
    (18.5,[1.1,0.65,0.2,-0.25,-0.7,-1.1]),
    (19,[1.2,0.7,0.25,-0.2,-0.65,-1.1]),
    (19.5,[1.4,0.95,0.45,0.0,-0.45,-0.9,-1.3]),
    (20,[1.0,0.5,0.05,-0.4,-0.85]),
    (20.5,[0.75,0.3,-0.15,-0.6,-1.05]),
    (21,[1.3,0.8,0.3,-0.15,-0.6,-1.0]),
    (21.5,[1.05,0.55,0.1,-0.35,-0.8]),
    (22,[1.1,0.6,0.15,-0.3,-0.75]),
    (22.5,[1.35,0.85,0.4,-0.05,-0.5,-0.95]),
    (23,[1.25,0.8,0.35,-0.1,-0.55,-1.0]),
    (23.5,[1.0,0.55,0.1,-0.35,-0.8]),
    (24,[1.0,0.5,0.05,-0.4,-0.85]),
    (24.5,[1.2,0.75,0.3,-0.15,-0.6]),
    (25,[1.15,0.7,0.2,-0.25,-1.0]),
    (25.5,[0.95,0.45,0.0,-0.45]),
    (26,[0.9,0.4,-0.05,-0.5]),
    (26.5,[1.3,0.65,0.2,-0.25]),
    (27,[1.1,0.55,0.1,-0.35]),
    (27.5,[0.9,0.45,-0.05]),
    (28,[0.7,0.3,-0.2]),
    (29,[1.0,0.4]),
    (30,[0.35,-0.15]),
]
b3_loess_x = [11, 20, 30, 40, 50, 60, 70, 80, 90, 100.5]
b3_loess_y = [-0.06, -0.05, -0.08, -0.1, -0.1, -0.1, -0.12, -0.12, -0.14, -0.15]

# Panel B4: time after dose vs CWRES
b4_points = [
    (4.13,0.57),(4.37,0.46),(4.44,-1.39),(4.44,-2.37),(4.79,-2.28),(4.72,1.02),(4.9,1.0),(4.9,0.7),
    (5.24,0.63),(5.59,0.57),(5.42,0.33),(4.9,0.18),(4.55,-0.08),(4.65,-0.22),(5.07,-0.28),(4.79,-0.41),
    (5.24,-0.48),(4.9,-0.8),(5.07,-0.89),(4.72,-1.23),(5.42,-0.54),(5.59,-0.93),(5.35,-0.22),
    (4.37,0.24),(4.96,0.07),(5.59,-1.1),
    (6.05,1.74),(6.05,1.09),(6.1,0.96),(6.05,0.83),(6.1,0.63),(6.0,0.48),(6.1,0.31),(6.05,0.18),
    (6.18,0.05),(6.05,-0.08),(6.1,-0.22),(6.05,-0.35),(6.18,-0.48),(6.05,-0.61),(6.1,-0.8),(6.05,-1.0),
    (6.18,-1.15),(6.05,-1.26),(6.1,-1.48),
    (8.14,0.37),(8.31,1.46),(8.38,-0.8),(8.55,-0.48),(8.73,1.87),(8.9,0.96),(8.97,1.29),(8.9,-1.98),
    (9.08,-1.46),(9.18,2.03),(9.32,2.2),(9.42,1.81),(9.25,1.22),(9.08,0.83),(9.36,0.63),(8.9,0.44),
    (9.18,0.18),(8.83,0.05),(9.32,-0.15),(8.9,-0.35),(9.42,-0.54),(9.18,0.57),(8.62,1.09),(9.49,1.02),
    (9.56,0.31),(8.73,0.24),
    (10.1,1.94),(10.0,1.09),(10.1,0.86),(10.0,0.7),(10.1,0.5),(9.95,0.33),(10.1,0.11),(10.0,-0.08),
    (10.1,-0.28),(10.0,-0.48),(10.1,-0.67),(10.0,-0.84),(10.1,-1.07),(10.0,-1.13),
    (12.14,0.76),(12.8,2.37),(12.8,1.72),(12.9,1.48),(12.67,1.09),(13.1,0.96),(12.4,0.57),(12.7,0.37),
    (13.15,0.28),(12.55,0.18),(12.9,0.07),(13.25,0.31),(13.4,0.18),(12.3,0.07),(12.67,-0.08),
    (13.1,-0.19),(12.55,-0.35),(12.8,-0.74),(12.7,-1.59),(12.7,-1.72),(12.9,-2.6),(12.28,-1.04),
    (13.25,0.57),(13.35,0.44),(13.4,1.02),(13.0,-0.45),(12.9,0.6),
    (14.05,1.65),(14.05,1.09),(14.3,0.96),(14.1,0.57),(14.4,0.37),(13.95,0.18),(14.2,0.05),
    (14.05,-0.15),(14.3,-0.28),(14.05,-0.48),(14.2,-0.67),(14.05,-0.87),(14.3,-1.0),(14.1,-1.63),
    (14.45,0.96),
    (15.77,0.31),(16.2,-1.23),(16.3,-1.39),(16.5,0.27),(16.6,0.4),(16.7,0.57),(16.85,1.33),(16.8,0.76),
    (17.0,0.11),(16.8,-0.08),(16.5,-0.22),(16.95,-0.28),(16.5,-0.45),(16.8,-0.67),(16.7,-0.89),
    (16.95,-1.39),(17.3,-1.23),(17.45,-0.48),(17.2,-0.13),(17.35,0.18),(17.5,0.31),(16.4,0.07),
    (18.13,1.72),(18.03,0.5),(18.13,0.37),(17.96,0.18),(18.13,0.05),(18.03,-0.08),(18.13,-0.22),
    (17.96,-0.37),(18.13,-0.54),(18.03,-0.74),(18.13,-0.93),(17.96,-1.13),(18.13,-1.36),(17.96,-1.52),
    (18.03,-1.68),(18.13,-2.44),(18.03,-2.6),
    (24.06,3.37),(24.65,2.66),(24.06,1.55),(24.2,1.38),(24.2,1.31),(23.98,1.04),(25.1,1.29),(25.2,0.99),
    (24.06,0.76),(24.2,0.67),(24.2,0.5),(24.75,0.59),(24.9,0.83),(25.3,0.7),(25.4,0.5),(25.1,0.37),
    (24.75,0.24),(24.2,0.07),(24.55,0.05),(24.9,0.05),(25.2,-0.08),(25.4,-0.22),(25.1,-0.28),
    (24.75,-0.35),(24.4,-0.45),(24.06,-0.48),(24.75,-0.61),(25.1,-0.74),(24.55,-0.84),(24.06,-0.84),
    (24.2,-0.97),(24.2,-1.26),(24.65,-1.23),(24.06,-1.98),(24.2,-2.04),(23.9,-2.15),(24.06,-2.3),
    (23.98,-3.02),(24.75,-3.09),(24.8,-3.19),(24.75,-3.48),(24.2,-0.22),(24.5,0.31),(24.4,0.96),
]
b4_loess_x = [4.1, 6, 8, 10, 12, 14, 16, 18, 20, 22, 24, 25.5]
b4_loess_y = [0.1, 0.08, 0.05, 0.02, -0.02, -0.06, -0.09, -0.12, -0.15, -0.18, -0.2, -0.22]

IDENTITY_A = [-5, 15]
IDENTITY_B = [-50, 250]

# Tick settings
conc_ticks = [0, 2.5, 5, 7.5, 10]
conc_text = ["0.0", "2.5", "5.0", "7.5", "10.0"]
res_ticks = [-4, -2, 0, 2, 4]
res_text = ["-4", "-2", "0", "2", "4"]
predA_ticks = [0, 2, 4, 6]
time_ticks_A = [0, 5, 10, 15, 20, 25]
amt_ticks = [0, 50, 100, 150]
amt_pred_ticks = [0, 25, 50, 75, 100]
time_ticks_B = [5, 10, 15, 20, 25]


def expand_cols(cols):
    xs, ys = [], []
    for x, yl in cols:
        for y in yl:
            xs.append(x)
            ys.append(y)
    return xs, ys


def unzip(pts):
    return [p[0] for p in pts], [p[1] for p in pts]


fig = go.Figure()

# pixel geometry of plot areas: (x0, x1, y0_top, y1_bottom)
geom = {
    1: (90, 314, 48, 273), 2: (433, 657, 48, 273),
    3: (90, 314, 333, 558), 4: (433, 657, 333, 558),
    5: (88, 312, 683, 907), 6: (431, 656, 683, 907),
    7: (88, 312, 969, 1193), 8: (431, 655, 969, 1193),
}

a2x, a2y = unzip(a2_points)
c2x, c2y = expand_cols(a2_columns)
a3x, a3y = unzip(a3_outliers)
c3x, c3y = expand_cols(a3_columns)
a4x, a4y = expand_cols(a4_columns)
b2x, b2y = unzip(b2_outliers)
c6x, c6y = expand_cols(b2_columns)
b3x, b3y = unzip(b3_outliers)
c7x, c7y = expand_cols(b3_columns)

panels = {
    1: dict(pts=unzip(a1_points), loess=(a1_loess_x, a1_loess_y), ref="id", idv=IDENTITY_A),
    2: dict(pts=(a2x + c2x, a2y + c2y), loess=(a2_loess_x, a2_loess_y), ref="id", idv=IDENTITY_A),
    3: dict(pts=(a3x + c3x, a3y + c3y), loess=(a3_loess_x, a3_loess_y), ref="h"),
    4: dict(pts=(a4x, a4y), loess=(a4_loess_x, a4_loess_y), ref="h"),
    5: dict(pts=unzip(b1_points), loess=(b1_loess_x, b1_loess_y), ref="id", idv=IDENTITY_B),
    6: dict(pts=(b2x + c6x, b2y + c6y), loess=(b2_loess_x, b2_loess_y), ref="id", idv=IDENTITY_B),
    7: dict(pts=(b3x + c7x, b3y + c7y), loess=(b3_loess_x, b3_loess_y), ref="h"),
    8: dict(pts=unzip(b4_points), loess=(b4_loess_x, b4_loess_y), ref="h"),
}

DASH = "19px,20px"
for i, p in panels.items():
    xa = "x" if i == 1 else f"x{i}"
    ya = "y" if i == 1 else f"y{i}"
    px_, py_ = p["pts"]
    pt = go.Scatter(x=px_, y=py_, mode="markers", xaxis=xa, yaxis=ya,
                    marker=dict(color=BLUE, size=5, line=dict(width=0)), hoverinfo="skip")
    lo = go.Scatter(x=p["loess"][0], y=p["loess"][1], mode="lines", xaxis=xa, yaxis=ya,
                    line=dict(color=ORANGE, width=4.6, dash=DASH, shape="spline"), hoverinfo="skip")
    if p["ref"] == "id":
        ref = go.Scatter(x=p["idv"], y=p["idv"], mode="lines", xaxis=xa, yaxis=ya,
                         line=dict(color="black", width=1.3), hoverinfo="skip")
        fig.add_trace(ref)
        fig.add_trace(lo)
        fig.add_trace(pt)
    else:
        fig.add_trace(lo)
        fig.add_trace(pt)
        fig.add_shape(type="line", xref=f"{xa} domain", yref=ya, x0=0, x1=1, y0=0, y1=0,
                      line=dict(color="black", width=1.3), layer="above")

axis_common = dict(
    showline=True, mirror=True, linecolor="#B3B3B3", linewidth=1,
    showgrid=True, gridcolor="#DEDEDE", gridwidth=1, zeroline=False,
    ticks="outside", ticklen=4, tickcolor="#B3B3B3", tickwidth=1,
    tickfont=TICK_FONT,
)

spec = {
    1: dict(xr=[-0.5, 10.5], yr=[-0.5, 10.5], xt=(conc_ticks, conc_text), yt=(conc_ticks, conc_text), xm=1.25, ym=1.25),
    2: dict(xr=[-0.5, 10.5], yr=[-0.5, 10.5], xt=(conc_ticks, conc_text), yt=(conc_ticks, conc_text), xm=1.25, ym=1.25),
    3: dict(xr=[-0.27, 6.3], yr=[-4.4, 4.4], xt=(predA_ticks, [str(v) for v in predA_ticks]), yt=(res_ticks, res_text), xm=1, ym=1),
    4: dict(xr=[-1.08, 25.6], yr=[-4.4, 4.4], xt=(time_ticks_A, [str(v) for v in time_ticks_A]), yt=(res_ticks, res_text), xm=2.5, ym=1),
    5: dict(xr=[-6.6, 157.3], yr=[-6.6, 157.3], xt=(amt_ticks, [str(v) for v in amt_ticks]), yt=(amt_ticks, [str(v) for v in amt_ticks]), xm=25, ym=25),
    6: dict(xr=[-6.6, 157.3], yr=[-6.6, 157.3], xt=(amt_ticks, [str(v) for v in amt_ticks]), yt=(amt_ticks, [str(v) for v in amt_ticks]), xm=25, ym=25),
    7: dict(xr=[-4.6, 110.0], yr=[-4.4, 4.4], xt=(amt_pred_ticks, [str(v) for v in amt_pred_ticks]), yt=(res_ticks, res_text), xm=12.5, ym=1),
    8: dict(xr=[3.06, 26.5], yr=[-4.4, 4.4], xt=(time_ticks_B, [str(v) for v in time_ticks_B]), yt=(res_ticks, res_text), xm=2.5, ym=1),
}

layout_axes = {}
for i, s in spec.items():
    x0, x1, t, b = geom[i]
    xk = "xaxis" if i == 1 else f"xaxis{i}"
    yk = "yaxis" if i == 1 else f"yaxis{i}"
    xa = "x" if i == 1 else f"x{i}"
    ya = "y" if i == 1 else f"y{i}"
    layout_axes[xk] = dict(axis_common, domain=[x0 / W, x1 / W], anchor=ya, range=s["xr"],
                           tickmode="array", tickvals=s["xt"][0], ticktext=s["xt"][1],
                           minor=dict(dtick=s["xm"], tick0=0, showgrid=True, gridcolor="#EBEBEB", gridwidth=0.7, ticks=""))
    layout_axes[yk] = dict(axis_common, domain=[1 - b / H, 1 - t / H], anchor=xa, range=s["yr"],
                           tickmode="array", tickvals=s["yt"][0], ticktext=s["yt"][1],
                           minor=dict(dtick=s["ym"], tick0=0, showgrid=True, gridcolor="#EBEBEB", gridwidth=0.7, ticks=""))

# axis titles as annotations (pixel positions)
titles = [
    ("Individual predicted concentration [nM]", 202, 306, 0),
    ("Observed concentration [nM]", 38, 160, -90),
    ("Population predicted concentration [nM]", 545, 306, 0),
    ("Observed concentration [nM]", 382, 160, -90),
    ("Population predicted concentration [nM]", 202, 595, 0),
    ("Conditional weighted residuals", 39, 446, -90),
    ("Time after dose [hours]", 545, 595, 0),
    ("Conditional weighted residuals", 383, 446, -90),
    ("Individual predicted amount [nmol]", 200, 943, 0),
    ("Observed amount [nmol]", 42, 795, -90),
    ("Population predicted amount [nmol]", 542, 943, 0),
    ("Observed amount [nmol]", 383, 795, -90),
    ("Population predicted amount [nmol]", 200, 1228, 0),
    ("Conditional weighted residuals", 40, 1081, -90),
    ("Time after dose [hours]", 543, 1228, 0),
    ("Conditional weighted residuals", 383, 1081, -90),
]
annotations = []
for text, xp, yp, ang in titles:
    annotations.append(dict(text=text, x=xp / W, y=1 - yp / H, xref="paper", yref="paper",
                            xanchor="center", yanchor="middle", showarrow=False, textangle=ang,
                            font=TITLE_FONT))
for text, yp in [("A) Plasma", 14), ("B) Urine", 638)]:
    annotations.append(dict(text=text, x=0, y=1 - yp / H, xref="paper", yref="paper",
                            xanchor="left", yanchor="middle", showarrow=False,
                            font=dict(family="DejaVu Sans, Verdana, sans-serif", size=25.5, color="black")))

fig.update_layout(
    width=W, height=H, margin=dict(l=0, r=0, t=0, b=0),
    paper_bgcolor="white", plot_bgcolor="white", showlegend=False,
    annotations=annotations, **layout_axes,
)

fig.write_html("out.html", config={"displayModeBar": False, "staticPlot": True},
               post_script="document.body.style.margin='0';document.body.style.padding='0';")
